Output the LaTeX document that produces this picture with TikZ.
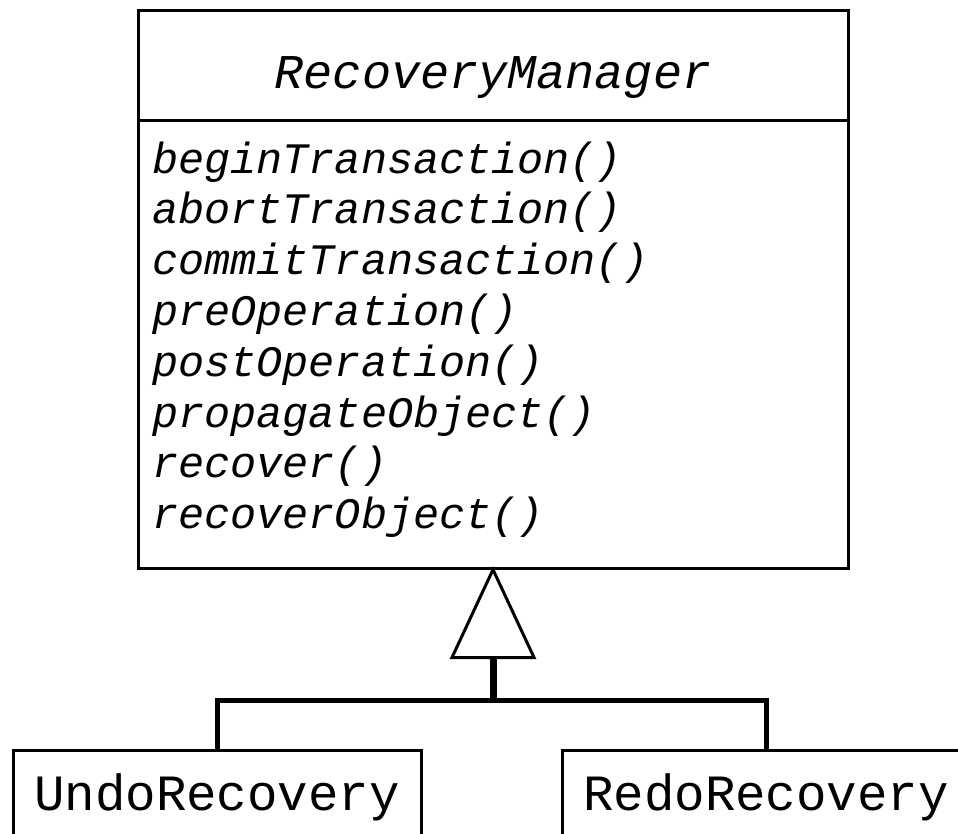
\documentclass[tikz,border=0pt]{standalone}
\usepackage{fontspec}
\setmonofont{Liberation Mono}
\usetikzlibrary{arrows.meta}

\begin{document}
\begin{tikzpicture}[x=1pt,y=-1pt,
  classbox/.style={draw=black, line width=3pt, fill=white, inner sep=0pt, outer sep=0pt},
  titletext/.style={font=\fontsize{48.5}{58}\selectfont\ttfamily\itshape, anchor=base, inner sep=0pt},
  optext/.style={font=\fontsize{43.5}{50}\selectfont\ttfamily\itshape, anchor=base west, inner sep=0pt},
  subtext/.style={font=\fontsize{50.8}{60}\selectfont\ttfamily, anchor=base, inner sep=0pt},
  conn/.style={draw=black, line width=5pt},
  inherit/.style={draw=black, line width=7pt,
    -{Triangle[open, length=93pt, width=86pt, line width=3pt]}}]

  \clip (0,0) rectangle (958,833);
  \fill[white] (0,0) rectangle (958,833);

  % abstract class: name compartment and operations compartment
  \node[classbox, minimum width=710pt, minimum height=110pt] (mgr) at (493,65) {};
  \node[titletext] (mgrname) at (493,88) {RecoveryManager};
  \node[classbox, minimum width=710pt, minimum height=448pt] (ops) at (493,344) {};

  \foreach \op [count=\i] in {beginTransaction(), abortTransaction(),
      commitTransaction(), preOperation(), postOperation(),
      propagateObject(), recover(), recoverObject()} {
    \node[optext] (op\i) at (152, {173 + (\i-1)*50.8}) {\op};
  }

  % concrete subclasses
  \node[classbox, minimum width=408pt, minimum height=120pt, anchor=north] (undo) at (217,750) {};
  \node[subtext] (undoname) at (217,810) {UndoRecovery};
  \node[classbox, minimum width=408pt, minimum height=120pt, anchor=north] (redo) at (766,750) {};
  \node[subtext] (redoname) at (766,810) {RedoRecovery};

  % generalization tree
  \coordinate (j) at (493,700);
  \draw[conn] (undo.north) |- (j) -| (redo.north);
  \draw[inherit] ([yshift=2.5pt]j) -- ([yshift=2pt]ops.south);
\end{tikzpicture}
\end{document}
